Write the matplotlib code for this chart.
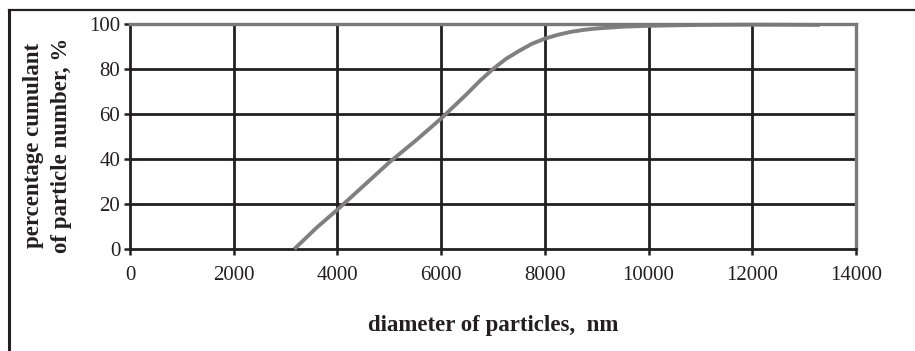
import matplotlib
matplotlib.use("Agg")
import matplotlib.pyplot as plt
from matplotlib.lines import Line2D

# data
diameter_nm = [3170, 3600, 4000, 4500, 5000, 5500, 6000, 6250, 6500, 6750, 7000,
               7250, 7500, 7750, 8000, 8250, 8500, 8750, 9000, 9500, 10000,
               11000, 12000, 13300]
cumulant_pct = [0, 9.5, 17.5, 28, 38.5, 48, 58, 63.5, 69, 74.8, 80,
                84.5, 88, 91.2, 93.5, 95.2, 96.5, 97.4, 98, 98.8, 99.2,
                99.6, 99.7, 99.6]
x_ticks = [0, 2000, 4000, 6000, 8000, 10000, 12000, 14000]
y_ticks = [0, 20, 40, 60, 80, 100]
y_label_lines = ['percentage cumulant', 'of particle number, %']

plt.rcParams['font.family'] = ['Liberation Serif', 'DejaVu Serif']

fig = plt.figure(figsize=(9.15, 3.51), dpi=100)
ax = fig.add_axes([130/915, 1-249/351, (856-130)/915, (249-24)/351])

ax.set_xlim(0, 14000)
ax.set_ylim(0, 100)
ax.set_xticks(x_ticks)
ax.set_yticks(y_ticks)
ax.set_xticklabels([str(v) for v in x_ticks])
ax.set_yticklabels([str(v) for v in y_ticks])

gridc = '#231f20'
for xv in x_ticks[1:-1]:
    ax.axvline(xv, color=gridc, lw=2.0, zorder=1)
for yv in y_ticks[1:-1]:
    ax.axhline(yv, color=gridc, lw=2.0, zorder=1)

ax.plot(diameter_nm, cumulant_pct, color='#808080', lw=2.8,
        solid_joinstyle='round', solid_capstyle='butt', zorder=3, clip_on=False)

for s in ['left', 'bottom']:
    ax.spines[s].set_color(gridc)
    ax.spines[s].set_linewidth(2.0)
for s in ['top', 'right']:
    ax.spines[s].set_color('#7a7a7a')
    ax.spines[s].set_linewidth(2.4)
ax.spines['top'].set_zorder(4)

ax.tick_params(axis='x', direction='out', length=4, width=1.8, color=gridc,
               labelsize=15, pad=8, labelcolor='#231f20')
ax.tick_params(axis='y', direction='out', length=4, width=1.8, color=gridc,
               labelsize=15, pad=3, labelcolor='#231f20')

ax.set_xlabel('diameter of particles,  nm', fontsize=16.5, fontweight='bold',
              color='#231f20', labelpad=22)
for xpix, line in zip([34, 61], y_label_lines):
    fig.text(xpix/915, 1-145/351, line, rotation=90, ha='center', va='center',
             fontsize=16.5, fontweight='bold', color='#231f20')

# outer frame (left and top edges visible)
fig.add_artist(Line2D([9/915, 9/915], [0, 1-10/351], transform=fig.transFigure,
                      color=gridc, lw=2.2))
fig.add_artist(Line2D([9/915, 1], [1-10/351, 1-10/351], transform=fig.transFigure,
                      color=gridc, lw=1.6))

fig.savefig('out.png', dpi=100)
